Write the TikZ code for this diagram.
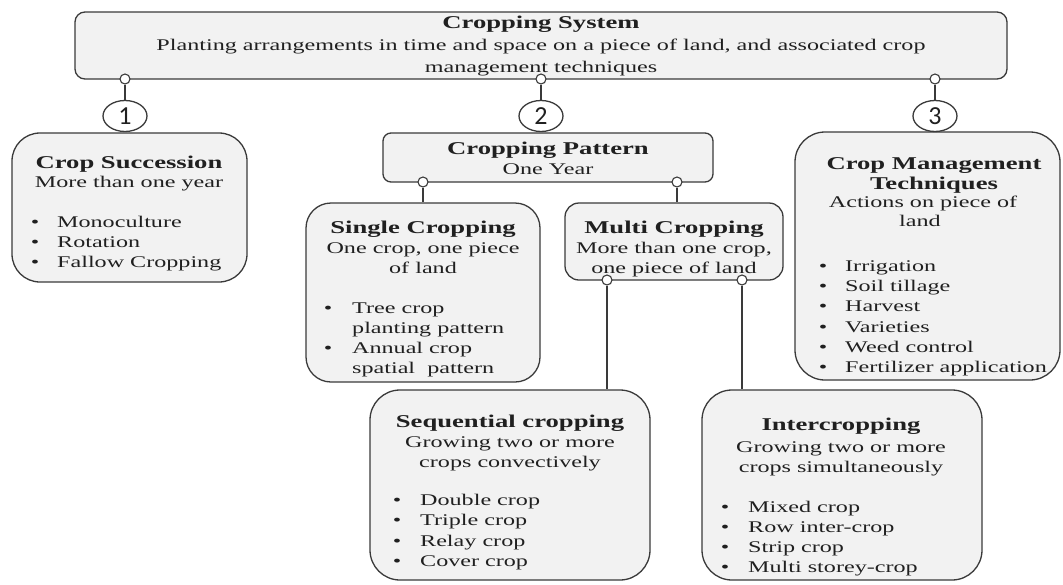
\documentclass[tikz,border=0pt]{standalone}
\usepackage{fontspec}
\setmainfont{Liberation Serif}[FakeStretch=1.48]
\newfontfamily\numfont{Carlito}
\usetikzlibrary{shapes.geometric}

\definecolor{boxfill}{HTML}{F2F2F2}
\definecolor{boxline}{HTML}{3A3A3A}
\definecolor{txtcol}{HTML}{202020}

\tikzset{
  box/.style={draw=boxline, line width=1.3pt, fill=boxfill, inner sep=0pt},
  dot/.style={circle, draw=boxline, line width=1.1pt, fill=white, minimum size=10pt, inner sep=0pt},
  num/.style={ellipse, draw=boxline, line width=1.3pt, fill=white, minimum width=44pt, minimum height=31pt, inner sep=0pt, font=\numfont\fontsize{26}{26}\selectfont, text=txtcol},
  conn/.style={draw=boxline, line width=1.1pt},
  ttl/.style={inner sep=0pt, anchor=base, text=txtcol, font=\bfseries\fontsize{18}{20}\selectfont},
  txt/.style={inner sep=0pt, anchor=base, text=txtcol, font=\fontsize{16.3}{19}\selectfont},
  itm/.style={txt, anchor=base west},
}
\newcommand\bitem[5]{\node[itm] (#1) at (#2,#4) {\makebox[0pt][c]{\textbullet}\hspace{\dimexpr #3pt-#2pt\relax}#5};}

\begin{document}
\begin{tikzpicture}[x=1pt,y=-1pt]
\useasboundingbox (0,0) rectangle (1063,584);

% boxes
\node[box, rounded corners=10pt, minimum width=932pt, minimum height=67pt] (sys) at (541,45.5) {};
\node[box, rounded corners=28pt, minimum width=235pt, minimum height=149pt] (succ) at (129.5,207.5) {};
\node[box, rounded corners=8pt, minimum width=330pt, minimum height=49pt] (pat) at (548,157.5) {};
\node[box, rounded corners=25pt, minimum width=234pt, minimum height=179pt] (single) at (423,292.5) {};
\node[box, rounded corners=14pt, minimum width=218pt, minimum height=77pt] (multi) at (674,241.5) {};
\node[box, rounded corners=30pt, minimum width=265pt, minimum height=248pt] (mgmt) at (927.5,256) {};
\node[box, rounded corners=30pt, minimum width=280pt, minimum height=190pt] (seq) at (510,485) {};
\node[box, rounded corners=30pt, minimum width=280pt, minimum height=190pt] (inter) at (842,485) {};

% numbered ellipses
\node[num] (n1) at (125,116) {1};
\node[num] (n2) at (541,116) {2};
\node[num] (n3) at (935,116) {3};

% dots
\node[dot] (d1) at (125,79) {};
\node[dot] (d2) at (541,79) {};
\node[dot] (d3) at (935,79) {};
\node[dot] (p1) at (423,182) {};
\node[dot] (p2) at (677,182) {};
\node[dot] (m1) at (607,280) {};
\node[dot] (m2) at (742,280) {};

% connectors
\draw[conn] (d1) -- (n1);
\draw[conn] (d2) -- (n2);
\draw[conn] (d3) -- (n3);
\draw[conn] (p1) -- (p1 |- single.north);
\draw[conn] (p2) -- (p2 |- multi.north);
\draw[conn] (m1) -- (m1 |- seq.north);
\draw[conn] (m2) -- (m2 |- inter.north);

% Cropping System
\node[ttl] (sys-t) at (541,28) {Cropping System};
\node[txt] (sys-a) at (541,50) {Planting arrangements in time and space on a piece of land, and associated crop};
\node[txt] (sys-b) at (541,72) {management techniques};

% Crop Succession
\node[ttl] (succ-t) at (129,168) {Crop Succession};
\node[txt] (succ-a) at (129,187) {More than one year};
\bitem{succ-1}{35}{57}{227}{Monoculture}
\bitem{succ-2}{35}{57}{247}{Rotation}
\bitem{succ-3}{35}{57}{267}{Fallow Cropping}

% Cropping Pattern
\node[ttl] (pat-t) at (548,154) {Cropping Pattern};
\node[txt] (pat-a) at (548,174) {One Year};

% Single Cropping
\node[ttl] (single-t) at (423,233) {Single Cropping};
\node[txt] (single-a) at (423,253) {One crop, one piece};
\node[txt] (single-b) at (423,273) {of land};
\bitem{single-1}{328}{352}{313}{Tree crop}
\node[itm] (single-1b) at (352,333) {planting pattern};
\bitem{single-2}{328}{352}{353}{Annual crop}
\node[itm] (single-2b) at (352,373) {spatial\ \ pattern};

% Multi Cropping
\node[ttl] (multi-t) at (674,233) {Multi Cropping};
\node[txt] (multi-a) at (674,253) {More than one crop,};
\node[txt] (multi-b) at (674,273) {one piece of land};

% Crop Management Techniques
\node[ttl] (mgmt-t) at (934,169) {Crop Management};
\node[ttl] (mgmt-u) at (934,189) {Techniques};
\node[txt] (mgmt-a) at (923,207) {Actions on piece of};
\node[txt] (mgmt-b) at (920,226) {land};
\bitem{mgmt-1}{823}{845}{271}{Irrigation}
\bitem{mgmt-2}{823}{845}{291}{Soil tillage}
\bitem{mgmt-3}{823}{845}{311}{Harvest}
\bitem{mgmt-4}{823}{845}{332}{Varieties}
\bitem{mgmt-5}{823}{845}{352}{Weed control}
\bitem{mgmt-6}{823}{845}{372}{Fertilizer application}

% Sequential cropping
\node[ttl] (seq-t) at (510,427) {Sequential cropping};
\node[txt] (seq-a) at (510,447) {Growing two or more};
\node[txt] (seq-b) at (510,467) {crops convectively};
\bitem{seq-1}{397}{420}{505}{Double crop}
\bitem{seq-2}{397}{420}{525}{Triple crop}
\bitem{seq-3}{397}{420}{546}{Relay crop}
\bitem{seq-4}{397}{420}{566}{Cover crop}

% Intercropping
\node[ttl] (inter-t) at (841,430) {Intercropping};
\node[txt] (inter-a) at (841,452) {Growing two or more};
\node[txt] (inter-b) at (841,472) {crops simultaneously};
\bitem{inter-1}{725}{748}{512}{Mixed crop}
\bitem{inter-2}{725}{748}{532}{Row inter-crop}
\bitem{inter-3}{725}{748}{552}{Strip crop}
\bitem{inter-4}{725}{748}{572}{Multi storey-crop}
\end{tikzpicture}
\end{document}
